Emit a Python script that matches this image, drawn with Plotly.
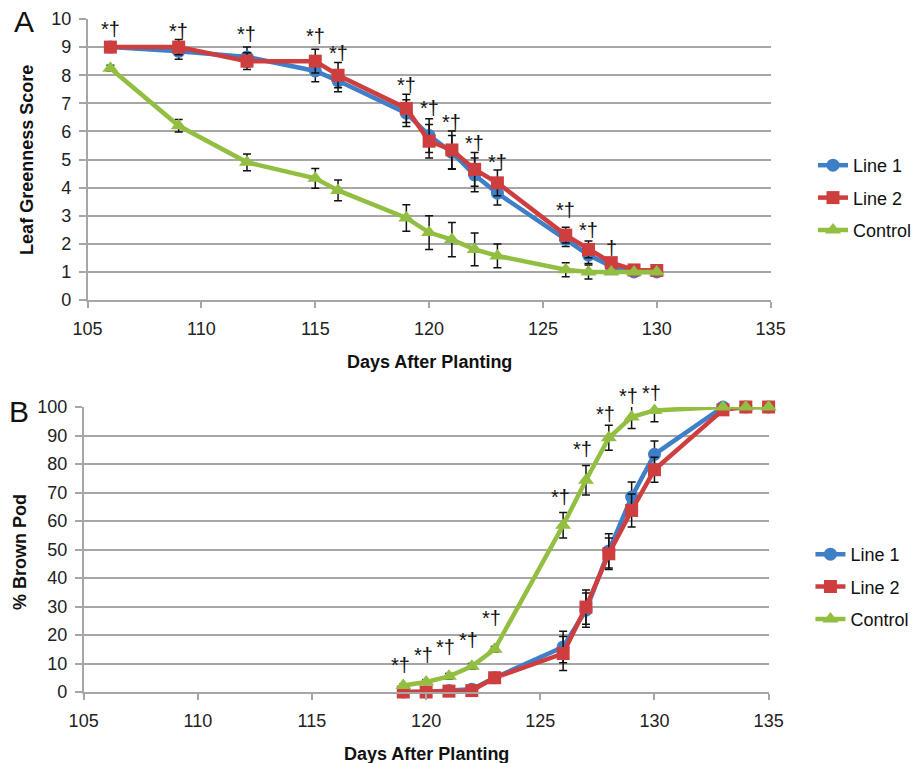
import plotly.graph_objects as go

W, H = 917, 763

# ---------------- Panel A data: Leaf greenness score ----------------
days_a = [106, 109, 112, 115, 116, 119, 120, 121, 122, 123, 126, 127, 128, 129, 130]
line1_a = [9.0, 8.85, 8.65, 8.15, 7.8, 6.65, 5.85, 5.25, 4.45, 3.8, 2.16, 1.6, 1.2, 1.0, 1.0]
line1_a_err = [0.05, 0.28, 0.35, 0.38, 0.39, 0.48, 0.6, 0.6, 0.6, 0.42, 0.26, 0.3, 0.1, 0.0, 0.0]
line2_a = [9.0, 9.0, 8.5, 8.5, 8.0, 6.82, 5.65, 5.34, 4.65, 4.17, 2.31, 1.8, 1.33, 1.07, 1.05]
line2_a_err = [0.05, 0.27, 0.3, 0.42, 0.45, 0.5, 0.6, 0.67, 0.6, 0.46, 0.28, 0.3, 0.1, 0.0, 0.0]
ctrl_a = [8.25, 6.2, 4.9, 4.33, 3.9, 2.92, 2.4, 2.15, 1.8, 1.57, 1.08, 1.0, 1.0, 1.0, 1.0]
ctrl_a_err = [0.1, 0.22, 0.3, 0.35, 0.37, 0.47, 0.6, 0.61, 0.58, 0.42, 0.25, 0.25, 0.0, 0.0, 0.0]
sig_a_days = [106, 109, 112, 115, 116, 119, 120, 121, 122, 123, 126, 127, 128]
sig_a_text = ["*†"] * 12 + ["†"]
sig_a_y = [9.63, 9.58, 9.47, 9.39, 8.78, 7.65, 6.82, 6.35, 5.58, 4.92, 3.2, 2.49, 1.84]

# ---------------- Panel B data: % brown pod ----------------
days_b = [119, 120, 121, 122, 123, 126, 127, 128, 129, 130, 133, 134, 135]
line1_b = [0, 0, 0.5, 1, 5, 15.8, 28.7, 49.5, 68.4, 83.4, 100, 100, 100]
line1_b_err = [0, 0, 0.5, 0.5, 1, 5.5, 6, 6, 5.3, 4.7, 0, 0, 0]
line2_b = [0, 0, 0.3, 0.5, 5, 13.5, 29.8, 48.5, 63.7, 78, 99, 100, 100]
line2_b_err = [0, 0, 0.5, 0.5, 1, 6, 6, 5.5, 5.8, 4.4, 0, 0, 0]
ctrl_b = [2.3, 3.5, 5.5, 9.0, 15, 58.5, 74.3, 89.2, 96.5, 98.8, 100, 100, 100]
ctrl_b_err = [0.5, 0.8, 1, 1, 1, 4.5, 5.2, 4.4, 4, 4, 0, 0, 0]
sig_b_days = [119, 120, 121, 122, 123, 126, 127, 128, 129, 130]
sig_b_text = ["*†"] * 10
sig_b_y = [9.4, 12.9, 15.8, 18.1, 25.8, 68.4, 85.4, 97.7, 103.7, 104.9]

series_names = ["Line 1", "Line 2", "Control"]
colors = ["#3F7FC8", "#CF3E3E", "#92BE41"]
symbols = ["circle", "square", "triangle-up"]
msizes = [13, 13, 14]

FONT = "Arial, 'Liberation Sans', Helvetica, sans-serif"
GRID = "#A6A6A6"
YMAX_B = 100

fig = go.Figure()

def add_series(x, ys, errs, xa, ya, legend, tag):
    for i, (y, e) in enumerate(zip(ys, errs)):
        fig.add_trace(go.Scatter(
            x=x, y=y, mode="lines+markers", name=series_names[i],
            xaxis=xa, yaxis=ya, legend=legend, legendgroup=tag + str(i),
            line=dict(color=colors[i], width=4.5),
            marker=dict(symbol=symbols[i], size=msizes[i], color=colors[i]),
            error_y=dict(type="data", array=e, visible=True, color="#111111",
                         thickness=1.5, width=4),
            cliponaxis=False,
        ))

add_series(days_a, [line1_a, line2_a, ctrl_a], [line1_a_err, line2_a_err, ctrl_a_err], "x", "y", "legend", "a")
add_series(days_b, [line1_b, line2_b, ctrl_b], [line1_b_err, line2_b_err, ctrl_b_err], "x2", "y2", "legend2", "b")

# pixel height of one unit on panel B's y axis (for labels that sit above the axis top)
PX_PER_UNIT_B = (692 - 407) / YMAX_B

annotations = []
for d, t, yv in zip(sig_a_days, sig_a_text, sig_a_y):
    annotations.append(dict(x=d, y=yv, xref="x", yref="y", text=t, showarrow=False,
                            font=dict(family=FONT, size=20, color="#111111"),
                            xanchor="center", yanchor="middle"))
for d, t, yv in zip(sig_b_days, sig_b_text, sig_b_y):
    over = max(0.0, yv - YMAX_B)
    annotations.append(dict(x=d, y=min(yv, YMAX_B), xref="x2", yref="y2", text=t, showarrow=False,
                            font=dict(family=FONT, size=20, color="#111111"),
                            xanchor="center", yanchor="middle", xshift=-3,
                            yshift=over * PX_PER_UNIT_B))

def px_note(text, x, y, size, bold=False, angle=0):
    return dict(x=x / W, y=1 - y / H, xref="paper", yref="paper",
                text=("<b>%s</b>" % text) if bold else text, showarrow=False,
                textangle=angle, xanchor="center", yanchor="middle",
                font=dict(family=FONT, size=size, color="#111111"))

annotations += [
    px_note("A", 24, 22, 30),
    px_note("B", 19, 411, 30),
    px_note("Leaf Greenness Score", 27, 160, 18, bold=True, angle=-90),
    px_note("% Brown Pod", 20, 552, 18, bold=True, angle=-90),
    px_note("Days After Planting", 431, 362, 18, bold=True),
    px_note("Days After Planting", 428, 754, 18, bold=True),
]

xcommon = dict(range=[105, 135], dtick=5, tick0=105, showgrid=False, showline=True,
               linecolor=GRID, linewidth=1.5, ticks="outside", ticklen=6, tickwidth=1.5,
               tickcolor=GRID, zeroline=False, automargin=False, ticklabelstandoff=6,
               tickfont=dict(family=FONT, size=18, color="#222222"))
ycommon = dict(showgrid=True, gridcolor=GRID, gridwidth=1.5, showline=True,
               linecolor=GRID, linewidth=1.5, ticks="outside", ticklen=7, tickwidth=1.5,
               tickcolor=GRID, zeroline=False, automargin=False, ticklabelstandoff=4,
               tickfont=dict(family=FONT, size=18, color="#222222"))

legend_common = dict(xanchor="left", yanchor="top", bgcolor="rgba(0,0,0,0)",
                     font=dict(family=FONT, size=18, color="#111111"),
                     itemclick=False, tracegroupgap=6)

fig.update_layout(
    width=W, height=H,
    margin=dict(l=0, r=0, t=0, b=0),
    paper_bgcolor="white", plot_bgcolor="white",
    template="none",
    showlegend=True,
    xaxis=dict(domain=[88 / W, 774 / W], anchor="y", **xcommon),
    yaxis=dict(domain=[1 - 300 / H, 1 - 19 / H], anchor="x", range=[0, 10], dtick=1, **ycommon),
    xaxis2=dict(domain=[84 / W, 772 / W], anchor="y2", **xcommon),
    yaxis2=dict(domain=[1 - 692 / H, 1 - 407 / H], anchor="x2", range=[0, YMAX_B], dtick=10, **ycommon),
    legend=dict(x=817 / W, y=1 - 147 / H, **legend_common),
    legend2=dict(x=814 / W, y=1 - 536 / H, **legend_common),
    annotations=annotations,
)

fig.write_html("out.html",
               config={"displayModeBar": False},
               post_script="document.body.style.margin='0';document.body.style.padding='0';"
                           "document.body.style.overflow='hidden';")
